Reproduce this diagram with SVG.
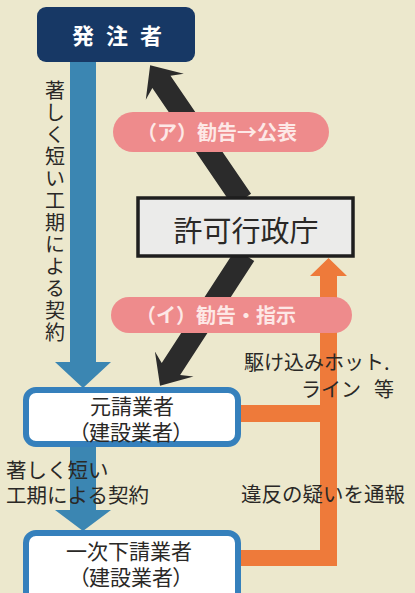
<svg xmlns="http://www.w3.org/2000/svg" width="415" height="593" viewBox="0 0 415 593">
<defs>
<style>
.t{font-family:"Noto Sans CJK JP","Noto Sans CJK SC",sans-serif;fill:#2a2826;}
.c{text-anchor:middle;}
.pill{fill:#ee8b8c;}
.pt{font-family:"Noto Sans CJK JP",sans-serif;fill:#fde8e6;font-size:20px;font-weight:bold;}
.blue{fill:#3b86b2;}
.blk{fill:#2b2b2b;}
.org{fill:#ee7a3a;}
.wbox{fill:#ffffff;stroke:#3580bc;stroke-width:6;}
.palt{font-feature-settings:"palt";}
</style>
</defs>
<rect width="415" height="593" fill="#ece8cd"/>
<g id="connectors">
  <polygon class="blue" points="70,62 96,62 96,362 111,362 83,388 55,362 70,362"/>
  <polygon class="blue" points="70,444 96,444 96,510 111,510 83,531 55,510 70,510"/>
  <polygon class="blk" points="0,-11 143,-11 137,-23 163,0 137,23 143,11 0,11" transform="translate(242,200) rotate(235.7)"/>
  <polygon class="blk" points="0,-11 136,-11 130,-23 156,0 130,23 136,11 0,11" transform="translate(245,255) rotate(123)"/>
  <polygon class="org" points="320,566 320,276 310,276 328.5,258 347,276 337,276 337,566"/>
  <rect class="org" x="237" y="405" width="84" height="17"/>
  <rect class="org" x="237" y="550" width="100" height="16"/>
  <g id="label-a">
    <rect class="pill" x="113" y="112" width="216" height="40" rx="20"/>
    <text class="pt c" x="217" y="140">（ア）勧告→公表</text>
  </g>
  <g id="label-i">
    <rect class="pill" x="111" y="297" width="241" height="36" rx="18"/>
    <text class="pt c" x="216" y="323">（イ）勧告・指示</text>
  </g>
  <text class="t" x="55" y="80" style="writing-mode:vertical-rl;font-size:20px;letter-spacing:2px">著しく短い工期による契約</text>
  <text class="t" font-size="20"><tspan x="244" y="370">駆け込みホット.</tspan><tspan x="301" y="397">ライン</tspan><tspan x="374" y="397">等</tspan></text>
  <text class="t" x="241" y="502" font-size="20.5">違反の疑いを通報</text>
  <text class="t" font-size="20.5"><tspan x="6" y="478">著しく短い</tspan><tspan x="6" y="503">工期による契約</tspan></text>
</g>
<g id="hacchusha">
  <rect x="37" y="7" width="158" height="55" rx="9" fill="#173865"/>
  <text class="c" x="117" y="44" style="font-family:'Noto Sans CJK JP',sans-serif;font-size:22px;font-weight:bold;fill:#ffffff;letter-spacing:12px" dx="6">発注者</text>
</g>
<g id="kyoka">
  <rect x="138" y="198" width="215" height="58" fill="#ebebea" stroke="#1e1e1e" stroke-width="3.5"/>
  <text class="t c" x="246" y="242" font-size="29">許可行政庁</text>
</g>
<g id="motouke">
  <rect class="wbox" x="26" y="390" width="212" height="54" rx="10"/>
  <text class="t c palt" font-size="21"><tspan x="132" y="414">元請業者</tspan><tspan x="131" y="440">（建設業者）</tspan></text>
</g>
<g id="shitauke">
  <rect class="wbox" x="26" y="533" width="212" height="70" rx="10"/>
  <text class="t c palt" font-size="21"><tspan x="129" y="559">一次下請業者</tspan><tspan x="131" y="585">（建設業者）</tspan></text>
</g>
</svg>
